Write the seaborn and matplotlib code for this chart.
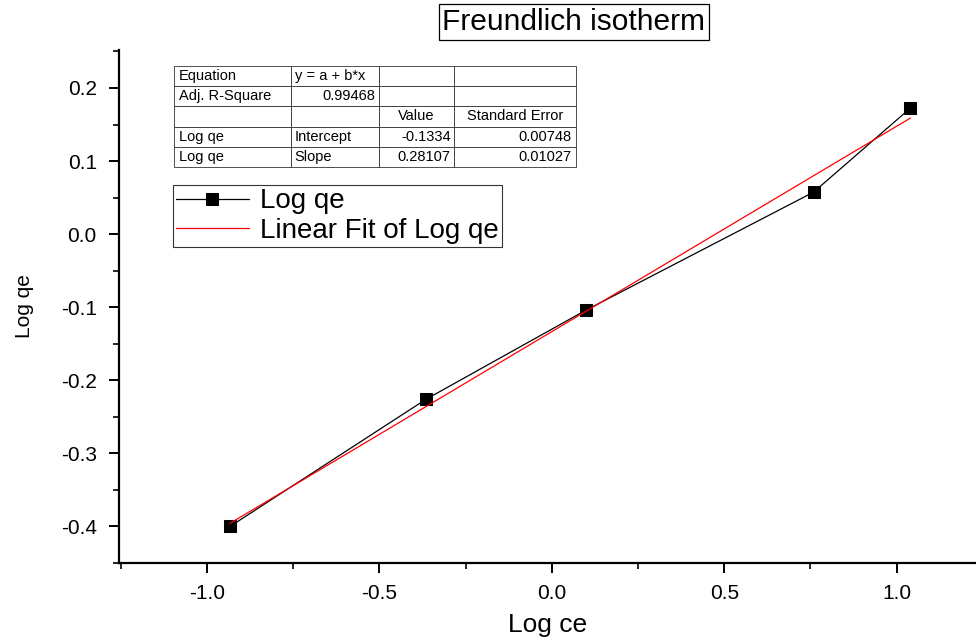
import numpy as np
import pandas as pd
import matplotlib
matplotlib.use("Agg")
import matplotlib.pyplot as plt
from matplotlib.ticker import MultipleLocator
import seaborn as sns

# Freundlich isotherm data (log-log)
log_ce = [-0.933, -0.365, 0.099, 0.759, 1.04]
log_qe = [-0.400, -0.226, -0.104, 0.0575, 0.1726]

# Linear fit results
intercept = -0.1334
slope = 0.28107
intercept_se = 0.00748
slope_se = 0.01027
adj_r2 = 0.99468

sns.set_theme(style="ticks")
plt.rcParams["font.family"] = ["Liberation Sans", "DejaVu Sans"]
plt.rcParams.update({
    "axes.linewidth": 1.6,
    "text.color": "black",
    "axes.labelcolor": "black",
    "xtick.color": "black",
    "ytick.color": "black",
    "axes.edgecolor": "black",
})

fig = plt.figure(figsize=(9.76, 6.39), dpi=100)
ax = fig.add_axes([119 / 976, 1 - 563 / 639, 1 - 119 / 976, (563 - 50) / 639])

df = pd.DataFrame({"x": log_ce, "y": log_qe})
fit_x = np.array([log_ce[0], log_ce[-1]])
fit_df = pd.DataFrame({"x": fit_x, "y": intercept + slope * fit_x})

sns.lineplot(data=df, x="x", y="y", ax=ax, color="black", lw=0.9,
             marker="s", markersize=9, markeredgecolor="black",
             markerfacecolor="black", label="Log qe", sort=False)
sns.lineplot(data=fit_df, x="x", y="y", ax=ax, color="red", lw=0.9,
             label="Linear Fit of Log qe")

ax.set_xlim(-1.255, 1.23)
ax.set_ylim(-0.45, 0.252)
ax.xaxis.set_major_locator(MultipleLocator(0.5))
ax.xaxis.set_minor_locator(MultipleLocator(0.25))
ax.yaxis.set_major_locator(MultipleLocator(0.1))
ax.yaxis.set_minor_locator(MultipleLocator(0.05))
ax.xaxis.set_major_formatter(plt.FuncFormatter(lambda v, p: f"{v:.1f}"))
ax.yaxis.set_major_formatter(plt.FuncFormatter(lambda v, p: f"{v:.1f}"))
ax.tick_params(which="major", direction="out", length=7, width=1.4,
               labelsize=15)
ax.tick_params(axis="x", which="major", pad=8)
ax.tick_params(axis="y", which="major", pad=9)
ax.tick_params(which="minor", direction="out", length=4, width=1.2)
for s in ("top", "right"):
    ax.spines[s].set_visible(False)

ax.set_xlabel("Log ce", fontsize=19, labelpad=7)
ax.set_ylabel("Log qe", fontsize=15, labelpad=19)

leg = ax.legend(loc="upper left", bbox_to_anchor=(0.063, 0.737),
                borderaxespad=0, fontsize=20, frameon=True, fancybox=False,
                handlelength=2.6, handletextpad=0.4, borderpad=0.12,
                labelspacing=0.12)
leg.get_frame().set_edgecolor("black")
leg.get_frame().set_linewidth(0.8)

# Fit summary table
cells = [
    ["Equation", "y = a + b*x", "", ""],
    ["Adj. R-Square", f"{adj_r2:.5f}", "", ""],
    ["", "", "Value", "Standard Error"],
    ["Log qe", "Intercept", f"{intercept}", f"{intercept_se:.5f}"],
    ["Log qe", "Slope", f"{slope}", f"{slope_se:.5f}"],
]
aligns = [
    ["left", "left", "left", "left"],
    ["left", "right", "left", "left"],
    ["left", "left", "center", "center"],
    ["left", "left", "right", "right"],
    ["left", "left", "right", "right"],
]
tbl = ax.table(cellText=cells, colWidths=[117, 87, 75, 122],
               bbox=[(174 - 119) / 857, (563 - 167) / 513, 402 / 857, 101 / 513])
tbl.auto_set_font_size(False)
for (r, c), cell in tbl.get_celld().items():
    cell.set_linewidth(0.6)
    cell.set_edgecolor("#333333")
    cell.set_facecolor("white")
    cell.get_text().set_fontsize(10.5)
    cell.get_text().set_color("black")
    cell.get_text().set_ha(aligns[r][c])
    cell.PAD = 0.04

fig.text(574 / 976, 1 - 22 / 639, "Freundlich isotherm", fontsize=21.5,
         ha="center", va="center",
         bbox=dict(boxstyle="square,pad=0.13", fc="white", ec="black", lw=0.9))

fig.savefig("out.png", dpi=100)
